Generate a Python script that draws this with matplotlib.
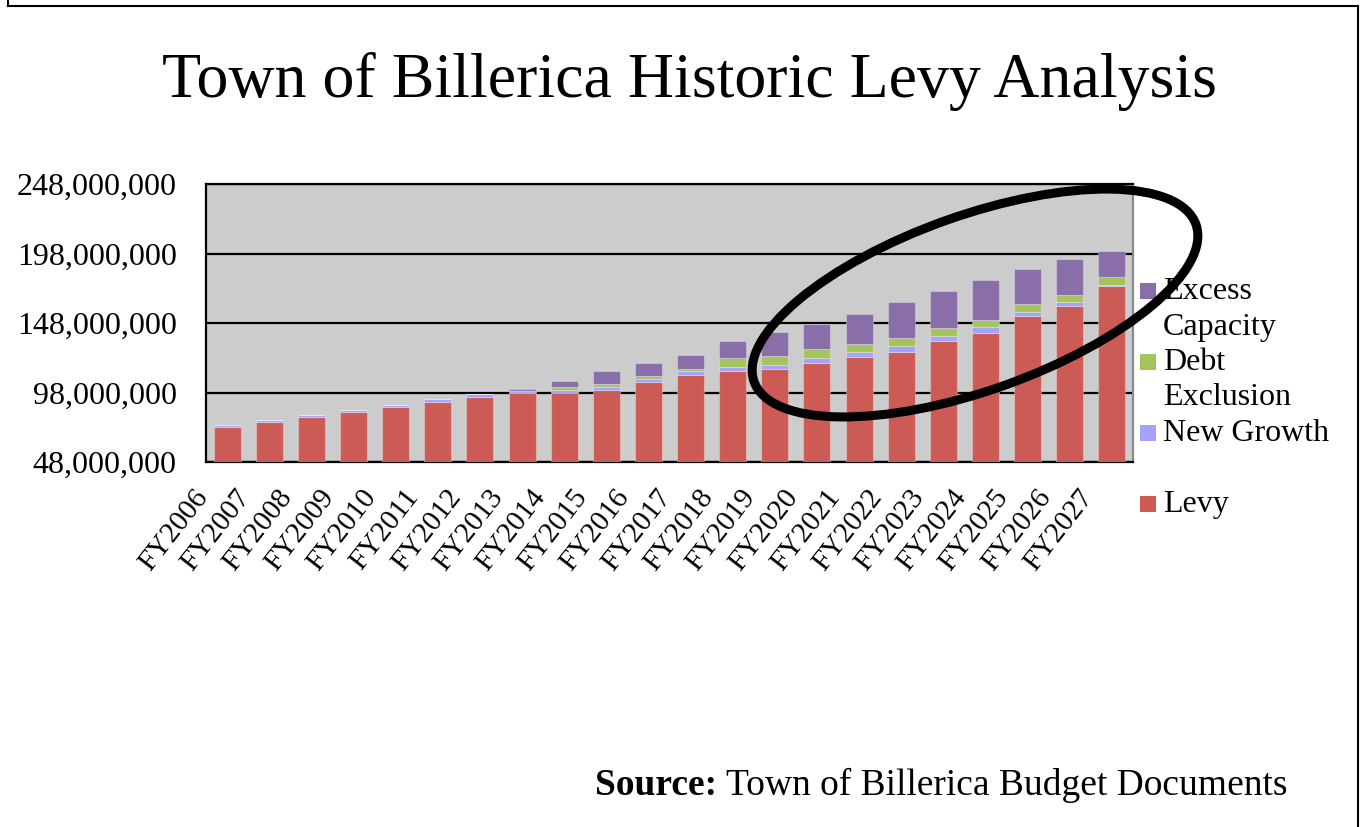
import numpy as np
import matplotlib
matplotlib.use('Agg')
import matplotlib.pyplot as plt
import matplotlib.patches as patches
from matplotlib.lines import Line2D
from matplotlib.ticker import FuncFormatter
from matplotlib.transforms import ScaledTranslation

matplotlib.rcParams['font.family'] = 'Liberation Serif'

# values in millions of dollars
years = ['FY2006', 'FY2007', 'FY2008', 'FY2009', 'FY2010', 'FY2011',
         'FY2012', 'FY2013', 'FY2014', 'FY2015', 'FY2016', 'FY2017',
         'FY2018', 'FY2019', 'FY2020', 'FY2021', 'FY2022', 'FY2023',
         'FY2024', 'FY2025', 'FY2026', 'FY2027']
levy = [73.4, 76.5, 80.4, 84.2, 87.8, 90.9, 95.0, 97.6, 97.6, 99.8, 105.3,
        110.3, 113.5, 115.2, 119.3, 123.6, 127.0, 134.9, 140.9, 152.9,
        160.1, 174.7]
new_growth = [1.4, 1.9, 1.6, 1.4, 0.9, 2.4, 1.6, 1.7, 2.2, 2.4, 2.4, 2.9,
              2.6, 2.4, 3.4, 3.6, 4.5, 3.8, 3.9, 3.1, 2.9, 0.7]
debt_exclusion = [0, 0, 0, 0, 0, 0, 0, 0, 1.9, 2.1, 2.2, 1.7, 6.5, 6.7,
                  6.4, 5.5, 5.8, 5.8, 5.4, 5.5, 5.5, 5.8]
excess_capacity = [0, 0, 0, 0, 0, 0, 0, 1.2, 4.8, 9.4, 9.3, 10.1, 12.7,
                   16.9, 18.5, 21.6, 25.7, 26.6, 28.8, 25.0, 25.7, 18.5]
y_ticks = [48, 98, 148, 198, 248]

C_LEVY = '#CD5B55'
C_GROWTH = '#A3A3FF'
C_DEBT = '#A5C460'
C_EXCESS = '#8A6EAA'

W, H = 1361, 827
fig = plt.figure(figsize=(W / 100, H / 100), dpi=100)
ax = fig.add_axes([206 / W, 1 - 462 / H, (1133 - 206) / W, (462 - 184) / H])
ax.set_facecolor('#CCCCCC')

x = np.arange(len(years))
scale = 1e6
stack = [(levy, C_LEVY), (new_growth, C_GROWTH),
         (debt_exclusion, C_DEBT), (excess_capacity, C_EXCESS)]
bottom = np.zeros(len(years))
for vals, col in stack:
    v = np.array(vals) * scale
    ax.bar(x, v, 0.64, bottom=bottom, color=col,
           edgecolor=(1, 1, 1, 0.3), linewidth=0.8, zorder=3)
    bottom += v

ax.set_xlim(-0.5, len(years) - 0.5)
ax.set_ylim(y_ticks[0] * scale, y_ticks[-1] * scale)
ax.set_yticks([t * scale for t in y_ticks])
ax.yaxis.set_major_formatter(FuncFormatter(lambda v, p: f'{int(round(v)):,}'))
ax.grid(axis='y', color='black', linewidth=1.6, zorder=2)
ax.set_axisbelow(True)
ax.tick_params(axis='y', length=0, pad=21, labelsize=23)
ax.tick_params(axis='x', length=0, pad=22, labelsize=21)
ax.set_xticks(x)
ax.set_xticklabels(years, rotation=52, ha='right', va='center',
                   rotation_mode='anchor')
offset = ScaledTranslation(-0.24, 0, fig.dpi_scale_trans)
for lbl in ax.get_xticklabels():
    lbl.set_transform(lbl.get_transform() + offset)

for side in ['top', 'bottom', 'left']:
    ax.spines[side].set_color('black')
    ax.spines[side].set_linewidth(1.6)
ax.spines['right'].set_color('#888888')
ax.spines['right'].set_linewidth(1.6)

fig.text(689 / W, 1 - 97 / H, 'Town of Billerica Historic Levy Analysis',
         ha='center', va='baseline', fontsize=46)

# legend, laid out like the original (wrapped labels)
line_step = 35.5
legend_rows = [(['Excess', 'Capacity'], C_EXCESS, 299),
               (['Debt', 'Exclusion'], C_DEBT, 370),
               (['New Growth'], C_GROWTH, 441),
               (['Levy'], C_LEVY, 512)]
for lines, col, base in legend_rows:
    fig.add_artist(patches.Rectangle(
        (1140 / W, 1 - base / H), 16 / W, 16 / H,
        transform=fig.transFigure, facecolor=col, edgecolor='none'))
    for i, line in enumerate(lines):
        fig.text(1163 / W, 1 - (base + i * line_step) / H, line,
                 ha='left', va='baseline', fontsize=23)

src = fig.text(1287 / W, 1 - 795 / H, 'Town of Billerica Budget Documents',
               ha='right', va='baseline', fontsize=27)
fig.canvas.draw()
bb = src.get_window_extent()
fig.text((bb.x0 - 8) / W, 1 - 795 / H, 'Source:', ha='right', va='baseline',
         fontsize=27, fontweight='bold')

# hand-drawn highlight ellipse
ell = patches.Ellipse((9.75, (H - 303) / 100), 4.69, 1.75, angle=19.6,
                      transform=fig.dpi_scale_trans, fill=False,
                      edgecolor='black', linewidth=6.5, zorder=10)
fig.add_artist(ell)

# outer frame (open at the bottom)
for xs, ys in [([8, 8], [0, 6]), ([8, 1358], [6, 6]), ([1358, 1358], [6, 827])]:
    fig.add_artist(Line2D([v / W for v in xs], [1 - v / H for v in ys],
                          transform=fig.transFigure, color='black',
                          linewidth=1.5))

fig.savefig('out.png', dpi=100, facecolor='white')
